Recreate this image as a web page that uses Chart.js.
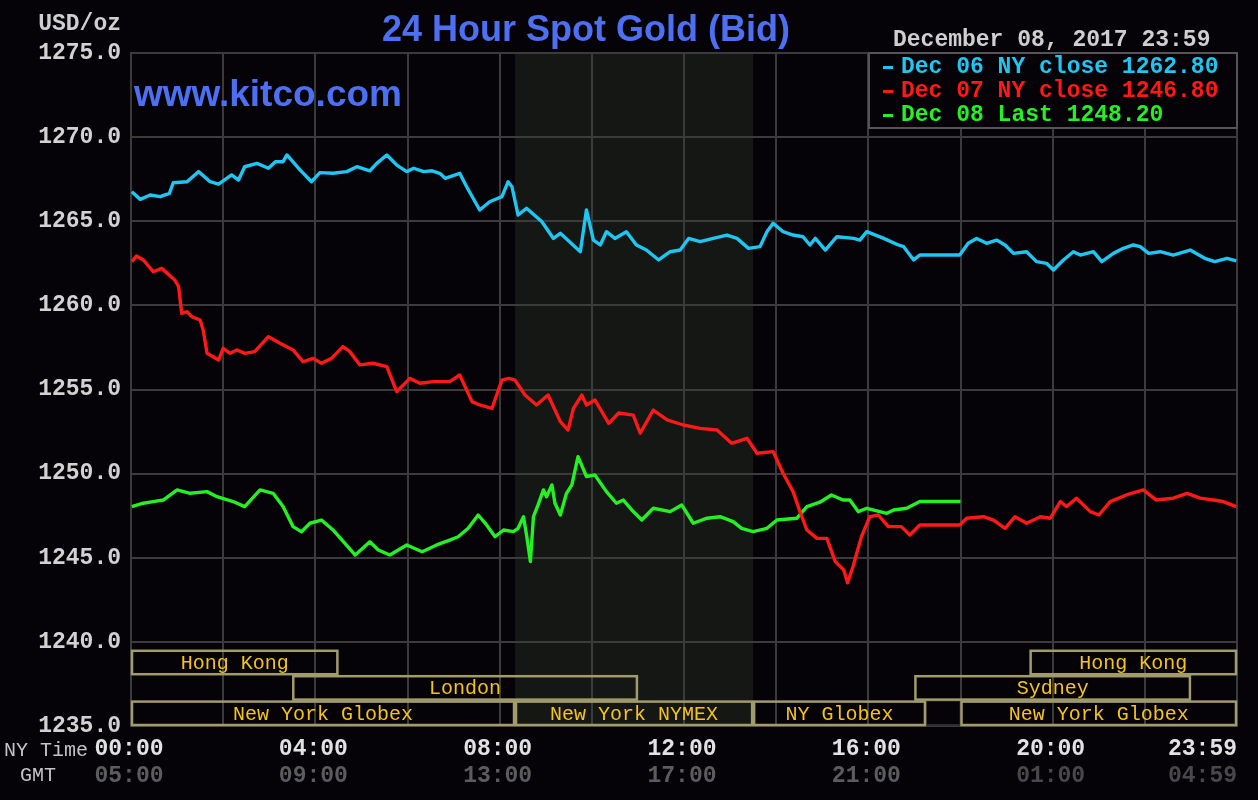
<!DOCTYPE html>
<html>
<head>
<meta charset="utf-8">
<script src="https://cdn.jsdelivr.net/npm/chart.js@4.4.0/dist/chart.umd.min.js"></script>
<style>
  html,body{margin:0;padding:0;background:#050308;}
  canvas{display:block;}
</style>
</head>
<body>
<canvas id="goldChart" width="1258" height="800"></canvas>
<script>
// times are minutes after 00:00 NY time
var dec06Time = [1,12,25,38,50,55,73,88,103,114,131,140,148,164,179,188,198,203,220,235,246,263,281,294,311,320,333,346,359,368,381,392,402,409,428,437,454,467,483,491,496,504,515,535,550,559,585,593,602,611,619,630,645,658,671,687,702,715,726,741,758,776,789,804,819,828,836,849,862,875,884,891,904,919,941,949,958,980,999,1006,1019,1027,1079,1090,1101,1114,1127,1138,1149,1166,1179,1192,1201,1214,1227,1236,1253,1264,1279,1292,1305,1314,1325,1340,1357,1379,1398,1411,1427,1439];
var dec06Price = [1266.76,1266.30,1266.56,1266.46,1266.66,1267.29,1267.35,1267.95,1267.35,1267.20,1267.75,1267.45,1268.24,1268.44,1268.15,1268.54,1268.54,1268.94,1268.05,1267.35,1267.89,1267.85,1267.95,1268.24,1268.00,1268.44,1268.94,1268.34,1267.95,1268.15,1267.95,1268.00,1267.85,1267.55,1267.85,1267.05,1265.67,1266.16,1266.46,1267.35,1267.05,1265.37,1265.77,1264.97,1263.98,1264.28,1263.19,1265.67,1263.88,1263.59,1264.38,1263.98,1264.38,1263.59,1263.29,1262.70,1263.19,1263.29,1263.98,1263.79,1263.98,1264.18,1263.98,1263.39,1263.49,1264.38,1264.88,1264.38,1264.18,1264.08,1263.59,1263.98,1263.29,1264.08,1263.98,1263.88,1264.38,1263.98,1263.59,1263.49,1262.70,1262.99,1262.99,1263.69,1263.98,1263.69,1263.88,1263.59,1263.09,1263.19,1262.60,1262.50,1262.10,1262.70,1263.19,1262.99,1263.19,1262.60,1263.09,1263.39,1263.59,1263.49,1263.09,1263.19,1262.99,1263.29,1262.80,1262.60,1262.80,1262.65];

var dec07Time = [1,7,16,29,40,57,62,66,73,79,90,94,99,114,120,129,138,148,161,179,194,211,224,237,248,261,276,285,298,315,333,346,363,376,394,415,428,444,454,470,483,492,500,513,528,543,559,569,576,587,593,604,622,635,654,663,680,698,719,741,763,782,802,815,836,849,862,871,880,893,906,917,928,933,940,951,962,973,986,1003,1014,1027,1079,1088,1110,1123,1138,1151,1166,1184,1197,1210,1218,1231,1249,1260,1275,1296,1318,1335,1357,1375,1392,1409,1422,1439];
var dec07Price = [1262.60,1262.93,1262.70,1262.00,1262.20,1261.51,1261.11,1259.53,1259.63,1259.33,1259.13,1258.54,1257.15,1256.75,1257.45,1257.15,1257.35,1257.15,1257.25,1258.14,1257.75,1257.35,1256.65,1256.85,1256.56,1256.85,1257.55,1257.25,1256.46,1256.56,1256.36,1254.87,1255.66,1255.37,1255.47,1255.47,1255.86,1254.28,1254.08,1253.88,1255.56,1255.66,1255.56,1254.67,1254.08,1254.67,1253.09,1252.59,1253.88,1254.67,1254.08,1254.38,1252.99,1253.60,1253.48,1252.40,1253.78,1253.19,1252.89,1252.69,1252.59,1251.80,1252.10,1251.21,1251.31,1250.02,1248.93,1247.74,1246.65,1246.15,1246.15,1244.77,1244.27,1243.52,1244.47,1246.25,1247.44,1247.54,1246.85,1246.85,1246.35,1246.95,1246.95,1247.35,1247.44,1247.24,1246.75,1247.44,1247.05,1247.44,1247.35,1248.34,1248.04,1248.54,1247.74,1247.54,1248.34,1248.73,1249.03,1248.43,1248.54,1248.83,1248.54,1248.43,1248.34,1248.04];

var dec08Time = [1,16,29,42,60,77,99,112,133,148,168,185,198,211,222,233,248,263,292,311,322,337,359,379,398,415,426,439,452,463,474,485,498,504,511,515,520,524,530,537,541,548,552,559,567,574,582,593,604,619,632,641,652,665,680,702,717,732,750,767,784,795,810,828,841,867,880,897,912,927,936,947,958,984,993,1010,1027,1080];
var dec08Price = [1248.04,1248.24,1248.34,1248.43,1249.03,1248.83,1248.93,1248.63,1248.34,1248.04,1249.03,1248.83,1248.04,1246.85,1246.55,1247.05,1247.24,1246.65,1245.16,1245.95,1245.46,1245.16,1245.76,1245.36,1245.76,1246.05,1246.25,1246.75,1247.54,1246.95,1246.25,1246.65,1246.55,1246.75,1247.44,1246.35,1244.77,1247.44,1248.14,1249.03,1248.63,1249.33,1248.24,1247.54,1248.83,1249.33,1251.01,1249.83,1249.92,1248.93,1248.24,1248.43,1247.84,1247.24,1247.94,1247.74,1248.14,1247.05,1247.35,1247.44,1247.15,1246.75,1246.55,1246.75,1247.24,1247.35,1248.04,1248.30,1248.73,1248.43,1248.43,1247.74,1247.94,1247.64,1247.84,1247.94,1248.34,1248.34];

var legendLabels = ['Dec 06 NY close 1262.80', 'Dec 07 NY close 1246.80', 'Dec 08 Last 1248.20'];
var nyTicks = [0, 240, 480, 720, 960, 1200, 1439];
var nyLabels = ['00:00', '04:00', '08:00', '12:00', '16:00', '20:00', '23:59'];
var gmtLabels = ['05:00', '09:00', '13:00', '17:00', '21:00', '01:00', '04:59'];

var sessionNames = ['Hong Kong', 'London', 'New York Globex', 'New York NYMEX', 'NY Globex', 'Sydney', 'New York Globex', 'Hong Kong'];
var sessionStart = [0, 210, 0, 500, 810, 1020, 1080, 1170];
var sessionEnd = [270, 660, 500, 810, 1035, 1380, 1440, 1440];
var sessionRow = [0, 1, 2, 2, 2, 1, 2, 0];
var nymexHours = [500, 810];

function points(t, v) {
  return t.map(function (m, i) { return { x: m, y: v[i] }; });
}

var MONO = '"Liberation Mono", "DejaVu Sans Mono", monospace';
var SANS = '"Liberation Sans", Arial, sans-serif';
var lineColors = ['#1fc6f2', '#ff1818', '#24f024'];

var kitcoPlugin = {
  id: 'kitco',
  beforeDraw: function (chart) {
    var ctx = chart.ctx, a = chart.chartArea, x = chart.scales.x;
    ctx.save();
    ctx.fillStyle = '#050308';
    ctx.fillRect(0, 0, chart.width, chart.height);
    var x0 = x.getPixelForValue(nymexHours[0]), x1 = x.getPixelForValue(nymexHours[1]);
    ctx.fillStyle = '#141714';
    ctx.fillRect(x0, a.top, x1 - x0, a.bottom - a.top);
    ctx.restore();
  },
  beforeDatasetsDraw: function (chart) {
    var ctx = chart.ctx, a = chart.chartArea, x = chart.scales.x;
    var rowH = 25.4;
    ctx.save();
    // closed gap between globex sessions
    ctx.strokeStyle = '#2c2c2c';
    ctx.lineWidth = 2;
    var g0 = x.getPixelForValue(sessionEnd[4]), g1 = x.getPixelForValue(sessionStart[6]);
    ctx.strokeRect(g0, a.bottom - rowH, g1 - g0, rowH - 1);
    ctx.lineWidth = 2.5;
    ctx.strokeStyle = '#a29c6c';
    ctx.font = '20px ' + MONO;
    ctx.textAlign = 'center';
    ctx.textBaseline = 'middle';
    for (var i = 0; i < sessionNames.length; i++) {
      var l = x.getPixelForValue(sessionStart[i]) + 1;
      var r = x.getPixelForValue(sessionEnd[i]) - 1;
      var top = a.bottom - (3 - sessionRow[i]) * rowH + 1;
      ctx.strokeRect(l, top, r - l, rowH - 2);
    }
    ctx.fillStyle = '#f4c418';
    for (var j = 0; j < sessionNames.length; j++) {
      var cx = (x.getPixelForValue(sessionStart[j]) + x.getPixelForValue(sessionEnd[j])) / 2;
      var cy = a.bottom - (3 - sessionRow[j]) * rowH + rowH / 2;
      ctx.fillText(sessionNames[j], cx, cy + 1);
    }
    ctx.restore();
  },
  afterDraw: function (chart) {
    var ctx = chart.ctx, a = chart.chartArea, x = chart.scales.x;
    ctx.save();
    // title and watermark
    ctx.fillStyle = '#4d6ff2';
    ctx.font = 'bold 36px ' + SANS;
    ctx.textAlign = 'center';
    ctx.textBaseline = 'middle';
    ctx.fillText('24 Hour Spot Gold (Bid)', 586, 31);
    ctx.font = 'bold 37px ' + SANS;
    ctx.textAlign = 'left';
    ctx.fillText('www.kitco.com', 134, 96);

    ctx.fillStyle = '#cfcfcf';
    ctx.font = 'bold 23px ' + MONO;
    ctx.textAlign = 'right';
    ctx.fillText('USD/oz', 121, 24);
    ctx.textAlign = 'left';
    ctx.fillText('December 08, 2017 23:59', 893, 40);

    // legend box
    ctx.fillStyle = '#050308';
    ctx.fillRect(869, a.top, a.right - 869, 75);
    ctx.strokeStyle = '#555555';
    ctx.lineWidth = 2;
    ctx.strokeRect(869, a.top, a.right - 869, 75);
    for (var i = 0; i < legendLabels.length; i++) {
      var ly = a.top + 14 + i * 24;
      ctx.fillStyle = lineColors[i];
      ctx.fillRect(883, ly - 1, 10, 3);
      ctx.fillText(legendLabels[i], 901, ly);
    }

    // time axis labels
    ctx.font = '20px ' + MONO;
    ctx.fillStyle = '#c4c4c4';
    ctx.textAlign = 'left';
    ctx.fillText('NY Time', 4, 751);
    ctx.fillText('GMT', 20, 776);
    ctx.font = 'bold 23px ' + MONO;
    for (var k = 0; k < nyTicks.length; k++) {
      var px = x.getPixelForValue(nyTicks[k]);
      if (k === nyTicks.length - 1) {
        ctx.textAlign = 'right';
        px = a.right;
      } else {
        ctx.textAlign = 'center';
        px = px - 2;
      }
      ctx.fillStyle = '#e2e2e2';
      ctx.fillText(nyLabels[k], px, 749);
      ctx.fillStyle = k >= 5 ? '#484848' : '#5c5c5c';
      ctx.fillText(gmtLabels[k], px, 776);
    }
    ctx.restore();
  }
};

new Chart(document.getElementById('goldChart'), {
  type: 'line',
  data: {
    datasets: [
      { data: points(dec06Time, dec06Price), borderColor: lineColors[0] },
      { data: points(dec07Time, dec07Price), borderColor: lineColors[1] },
      { data: points(dec08Time, dec08Price), borderColor: lineColors[2] }
    ]
  },
  options: {
    responsive: false,
    animation: false,
    parsing: false,
    layout: { padding: { top: 53, right: 21, left: 0, bottom: 0 } },
    elements: {
      point: { radius: 0 },
      line: { borderWidth: 3.4, tension: 0, borderJoinStyle: 'round' }
    },
    plugins: { legend: { display: false }, tooltip: { enabled: false } },
    scales: {
      x: {
        type: 'linear',
        min: 0,
        max: 1440,
        afterFit: function (s) { s.height = 74; },
        ticks: { display: false, stepSize: 120 },
        grid: { color: '#3b3b3b', lineWidth: 2, drawTicks: false },
        border: { color: '#3b3b3b', width: 2 }
      },
      y: {
        min: 1235,
        max: 1275,
        afterFit: function (s) { s.width = 131; },
        ticks: {
          stepSize: 5,
          padding: 10,
          color: '#d2d2d2',
          font: { family: MONO, size: 23, weight: 'bold' },
          callback: function (v) { return v.toFixed(1); }
        },
        grid: { color: '#3b3b3b', lineWidth: 2, drawTicks: false },
        border: { color: '#3b3b3b', width: 2 }
      }
    }
  },
  plugins: [kitcoPlugin]
});
</script>
</body>
</html>
